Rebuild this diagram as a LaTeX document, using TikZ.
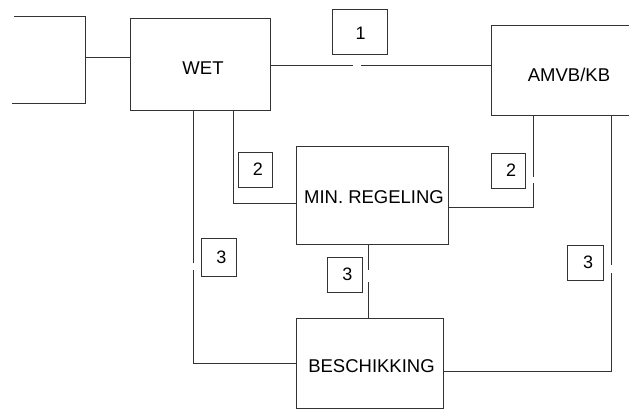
\documentclass[tikz,border=0pt]{standalone}
\usepackage{fontspec}
\setmainfont{Liberation Sans}
\newcommand{\lowerby}[2]{\raisebox{-#1}[\height][\depth]{#2}}
\begin{document}
\begin{tikzpicture}[x=1pt,y=-1pt,
  ln/.style={draw=black!80, line width=0.7pt},
  bigbox/.style={ln, rectangle, inner sep=0pt, font=\fontsize{18.5}{22}\selectfont},
  numbox/.style={ln, rectangle, inner sep=0pt, font=\fontsize{18}{20}\selectfont}]
\useasboundingbox[fill=white] (0,0) rectangle (629,410);
% main boxes
\node[bigbox, minimum width=140pt, minimum height=92pt] (wet) at (200,64) {\hspace*{6pt}\lowerby{4pt}{WET}};
\node[bigbox, minimum width=156pt, minimum height=90pt] (amvb) at (569,70) {\lowerby{5pt}{AMVB/KB}};
\node[bigbox, minimum width=152pt, minimum height=98pt] (min) at (372,195) {\hspace*{4pt}\lowerby{2.5pt}{MIN. REGELING}};
\node[bigbox, minimum width=147pt, minimum height=90pt] (besch) at (369.5,363) {\hspace*{4pt}\lowerby{3.5pt}{BESCHIKKING}};
% number boxes
\node[numbox, minimum width=55pt, minimum height=45pt] (n1) at (359.5,31.5) {\hspace*{2pt}\lowerby{2pt}{1}};
\node[numbox, minimum width=34pt, minimum height=35pt] (n2a) at (255,169.5) {\hspace*{6pt}2};
\node[numbox, minimum width=34pt, minimum height=35pt] (n2b) at (508,170.5) {\hspace*{6pt}2};
\node[numbox, minimum width=35pt, minimum height=38pt] (n3a) at (218.5,257) {\hspace*{6pt}3};
\node[numbox, minimum width=35pt, minimum height=35pt] (n3b) at (344.5,274.5) {\hspace*{6pt}3};
\node[numbox, minimum width=36pt, minimum height=35pt] (n3c) at (585,262.5) {\hspace*{6pt}3};
% partial box on the left
\draw[ln] (14,16) -- (85,16) -- (85,103) -- (12,103);
\coordinate (lbr) at (85,57);
\draw[ln] (lbr) -- (lbr -| wet.west);
% WET -- AMVB/KB (1)
\coordinate (g1a) at (353,65);
\coordinate (g1b) at (361,65);
\draw[ln] (wet.east |- g1a) -- (g1a);
\draw[ln] (g1b) -- (amvb.west |- g1b);
% WET -- BESCHIKKING (3)
\coordinate (a1) at (193,263);
\coordinate (a2) at (193,270);
\coordinate (a3) at (193,363);
\draw[ln] (wet.south -| a1) -- (a1);
\draw[ln] (a2) -- (a3) -- (besch.west |- a3);
% WET -- MIN (2)
\coordinate (b1) at (233,203);
\draw[ln] (wet.south -| b1) -- (b1) -- (min.west |- b1);
% MIN -- AMVB (2)
\coordinate (c1) at (533,207);
\coordinate (c2) at (533,183);
\coordinate (c3) at (533,177);
\draw[ln] (min.east |- c1) -- (c1) -- (c2);
\draw[ln] (c3) -- (amvb.south -| c3);
% MIN -- BESCHIKKING (3)
\coordinate (d1) at (368,270);
\coordinate (d2) at (368,282);
\draw[ln] (min.south -| d1) -- (d1);
\draw[ln] (d2) -- (besch.north -| d2);
% BESCHIKKING -- AMVB (3)
\coordinate (e1) at (611,371);
\coordinate (e2) at (611,273);
\coordinate (e3) at (611,265);
\draw[ln] (besch.east |- e1) -- (e1) -- (e2);
\draw[ln] (e3) -- (amvb.south -| e3);
\end{tikzpicture}
\end{document}
